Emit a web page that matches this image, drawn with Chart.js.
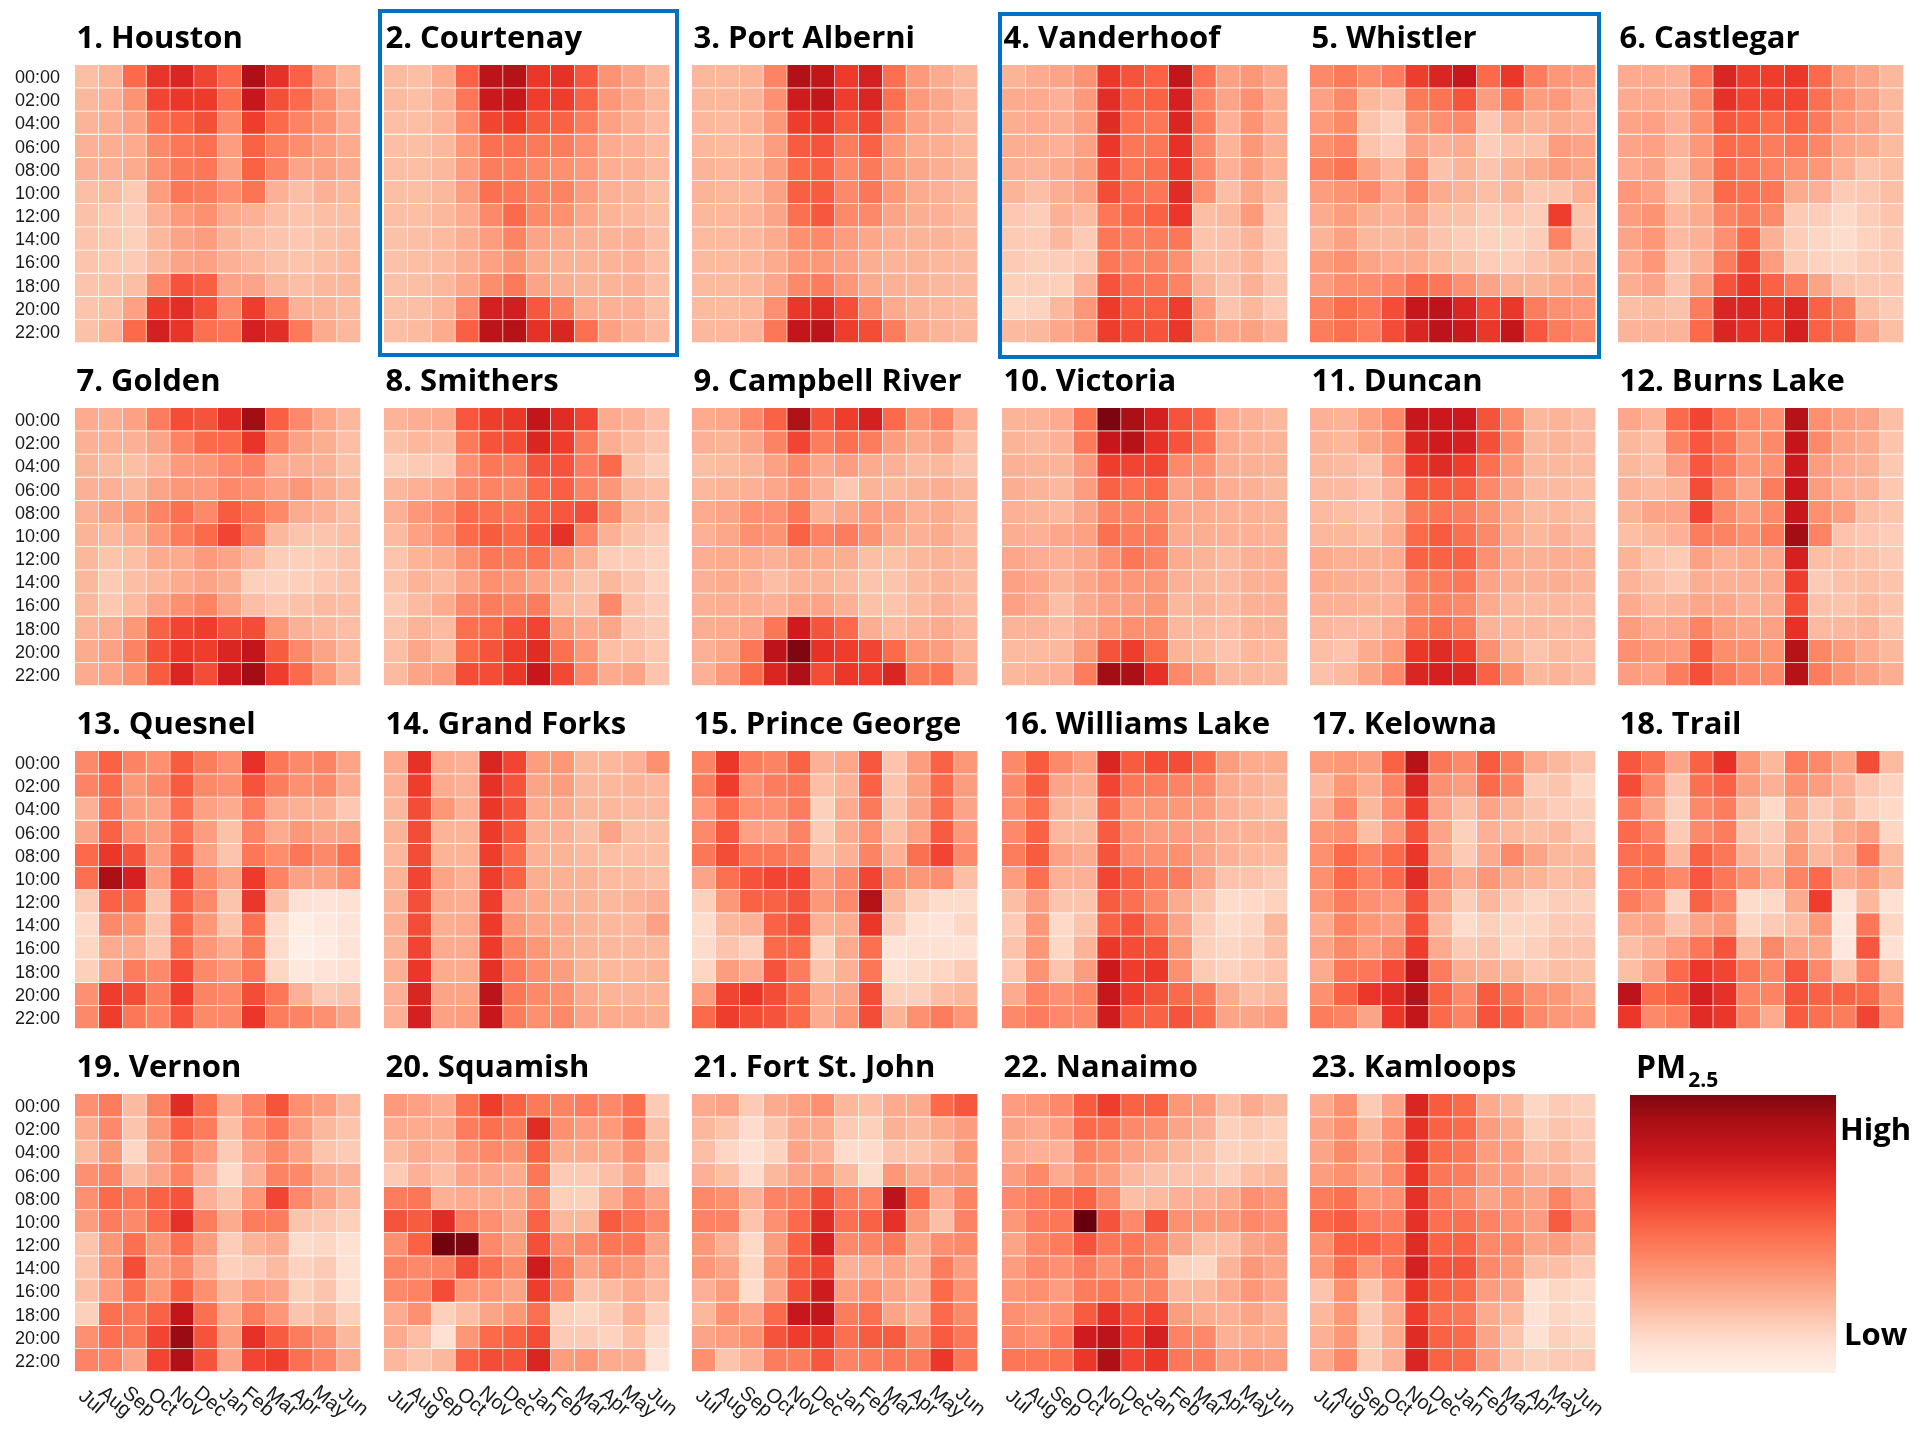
<!DOCTYPE html>
<html>
<head>
<meta charset="utf-8">
<title>Hourly PM2.5 by month, 23 BC communities</title>
<script src="https://cdn.jsdelivr.net/npm/chart.js@4.4.1/dist/chart.umd.min.js"></script>
<style>
  html, body { margin: 0; padding: 0; background: #ffffff; }
  #page { position: relative; width: 1920px; height: 1440px; overflow: hidden; background: #ffffff; }
  #page canvas { position: absolute; }
  .box { position: absolute; border: 4px solid #0070c0; box-sizing: border-box; pointer-events: none; }
</style>
</head>
<body>
<div id="page"></div>
<script>
// ---- axis categories ----
const months = ['Jul', 'Aug', 'Sep', 'Oct', 'Nov', 'Dec', 'Jan', 'Feb', 'Mar', 'Apr', 'May', 'Jun'];
const hours = ['00:00', '02:00', '04:00', '06:00', '08:00', '10:00', '12:00', '14:00', '16:00', '18:00', '20:00', '22:00'];

// ---- relative PM2.5 level (0 = low, 100 = high); rows = hour, columns = month ----
const houston = [
  [24, 27, 50, 65, 70, 60, 50, 85, 66, 52, 35, 26],
  [26, 28, 37, 60, 64, 63, 48, 77, 57, 50, 38, 28],
  [27, 29, 33, 48, 52, 57, 40, 62, 50, 42, 37, 29],
  [28, 29, 30, 40, 46, 48, 34, 52, 43, 39, 34, 30],
  [28, 28, 30, 38, 45, 46, 33, 52, 42, 32, 33, 30],
  [24, 25, 20, 34, 46, 44, 38, 47, 28, 24, 28, 26],
  [23, 21, 19, 28, 35, 38, 30, 28, 24, 22, 24, 24],
  [22, 21, 18, 26, 32, 34, 27, 24, 22, 21, 23, 24],
  [22, 21, 20, 26, 32, 33, 28, 26, 23, 22, 24, 25],
  [22, 23, 24, 40, 56, 53, 32, 32, 26, 24, 26, 26],
  [22, 24, 33, 63, 67, 57, 40, 62, 46, 28, 27, 25],
  [23, 27, 50, 72, 65, 48, 46, 72, 67, 45, 30, 26]
];
const courtenay = [
  [25, 24, 30, 52, 80, 82, 64, 66, 55, 37, 32, 26],
  [25, 24, 29, 46, 75, 77, 62, 62, 52, 36, 31, 26],
  [24, 24, 27, 40, 60, 63, 54, 52, 44, 33, 29, 25],
  [24, 24, 26, 36, 48, 48, 45, 44, 38, 30, 28, 25],
  [24, 24, 26, 34, 44, 43, 40, 38, 35, 29, 28, 25],
  [24, 24, 26, 34, 48, 46, 42, 42, 34, 28, 27, 24],
  [24, 24, 26, 30, 40, 50, 40, 38, 31, 27, 26, 24],
  [23, 24, 25, 29, 34, 42, 32, 30, 28, 27, 28, 24],
  [23, 24, 25, 29, 33, 37, 30, 28, 27, 27, 28, 24],
  [23, 24, 26, 31, 39, 45, 32, 29, 27, 27, 28, 24],
  [23, 24, 27, 40, 72, 73, 55, 43, 30, 28, 28, 24],
  [24, 25, 30, 53, 80, 82, 66, 70, 48, 33, 29, 25]
];
const portAlberni = [
  [26, 26, 27, 42, 84, 78, 63, 72, 48, 35, 30, 26],
  [26, 26, 27, 38, 74, 78, 62, 70, 48, 35, 31, 26],
  [26, 25, 27, 36, 62, 65, 54, 60, 42, 33, 30, 26],
  [26, 25, 26, 34, 54, 56, 44, 52, 36, 30, 29, 26],
  [27, 26, 27, 34, 50, 52, 40, 45, 35, 31, 29, 26],
  [27, 26, 26, 33, 53, 54, 40, 46, 36, 30, 28, 26],
  [26, 26, 27, 32, 48, 55, 40, 40, 32, 29, 28, 25],
  [25, 25, 26, 30, 38, 40, 34, 31, 28, 27, 27, 25],
  [25, 25, 26, 30, 35, 36, 33, 29, 27, 27, 26, 25],
  [25, 25, 26, 31, 40, 44, 36, 30, 28, 27, 26, 25],
  [25, 25, 26, 38, 64, 68, 57, 40, 30, 27, 26, 25],
  [26, 26, 27, 46, 78, 80, 62, 58, 44, 30, 27, 26]
];
const vanderhoof = [
  [27, 30, 32, 37, 64, 56, 52, 78, 48, 33, 36, 31],
  [30, 30, 28, 35, 67, 52, 52, 72, 42, 32, 38, 30],
  [29, 30, 29, 34, 68, 48, 46, 70, 44, 28, 37, 30],
  [29, 29, 28, 33, 64, 46, 46, 66, 40, 27, 36, 29],
  [28, 27, 30, 34, 60, 46, 48, 64, 40, 28, 34, 28],
  [27, 24, 29, 33, 58, 48, 46, 68, 38, 24, 31, 25],
  [21, 19, 28, 25, 46, 50, 52, 64, 24, 26, 35, 21],
  [20, 19, 26, 20, 46, 43, 44, 46, 22, 23, 27, 20],
  [20, 18, 19, 21, 46, 42, 42, 38, 24, 24, 27, 21],
  [18, 18, 18, 28, 56, 48, 46, 42, 27, 23, 28, 22],
  [16, 17, 26, 36, 63, 54, 53, 62, 34, 22, 26, 21],
  [25, 26, 31, 36, 62, 58, 56, 64, 36, 31, 33, 29]
];
const whistler = [
  [40, 45, 39, 44, 62, 70, 76, 50, 64, 44, 36, 34],
  [33, 40, 26, 24, 45, 47, 56, 34, 47, 34, 35, 28],
  [35, 40, 22, 18, 36, 38, 40, 21, 30, 27, 30, 28],
  [38, 42, 22, 19, 33, 28, 30, 19, 23, 23, 34, 32],
  [42, 47, 33, 26, 38, 23, 27, 22, 27, 30, 34, 31],
  [34, 37, 40, 31, 40, 30, 27, 24, 27, 21, 22, 28],
  [30, 34, 29, 28, 32, 24, 23, 19, 21, 19, 62, 22],
  [27, 33, 26, 26, 28, 22, 19, 17, 17, 19, 42, 22],
  [34, 38, 32, 30, 30, 26, 23, 19, 19, 22, 26, 27],
  [34, 39, 39, 42, 50, 46, 38, 32, 28, 27, 30, 32],
  [42, 49, 46, 58, 76, 80, 70, 58, 64, 44, 38, 36],
  [44, 48, 44, 58, 70, 80, 75, 64, 78, 55, 44, 40]
];
const castlegar = [
  [30, 30, 28, 44, 70, 62, 62, 64, 50, 36, 32, 26],
  [30, 30, 28, 40, 66, 60, 60, 60, 48, 38, 32, 26],
  [32, 33, 28, 38, 55, 53, 49, 52, 45, 35, 32, 26],
  [32, 33, 27, 36, 50, 48, 44, 46, 41, 32, 30, 25],
  [30, 32, 24, 34, 50, 46, 42, 38, 36, 28, 22, 24],
  [36, 33, 22, 30, 50, 48, 46, 30, 28, 20, 21, 24],
  [34, 37, 26, 30, 42, 45, 40, 20, 19, 15, 19, 22],
  [32, 36, 25, 28, 38, 50, 28, 19, 16, 14, 17, 20],
  [30, 36, 22, 28, 44, 58, 34, 20, 17, 16, 19, 20],
  [29, 32, 22, 34, 56, 64, 52, 44, 32, 22, 21, 21],
  [24, 25, 23, 44, 70, 70, 64, 70, 52, 45, 24, 20],
  [27, 27, 27, 50, 70, 66, 62, 72, 52, 48, 32, 24]
];
const golden = [
  [30, 29, 33, 44, 58, 56, 66, 88, 53, 40, 31, 26],
  [28, 28, 28, 32, 42, 50, 50, 65, 42, 33, 29, 24],
  [27, 25, 24, 27, 35, 36, 40, 43, 30, 29, 28, 23],
  [28, 28, 26, 32, 36, 35, 40, 38, 33, 36, 30, 26],
  [28, 32, 36, 42, 48, 40, 54, 48, 40, 30, 28, 24],
  [27, 26, 29, 36, 44, 50, 60, 46, 26, 22, 22, 24],
  [26, 22, 24, 30, 30, 35, 32, 26, 19, 18, 20, 22],
  [26, 20, 24, 26, 30, 32, 29, 18, 17, 18, 21, 22],
  [26, 21, 25, 32, 38, 42, 32, 24, 21, 23, 25, 24],
  [27, 29, 36, 52, 60, 62, 56, 58, 36, 28, 26, 24],
  [30, 33, 42, 57, 64, 62, 70, 78, 54, 40, 32, 26],
  [30, 32, 38, 54, 70, 58, 74, 88, 62, 50, 36, 26]
];
const smithers = [
  [27, 29, 30, 55, 62, 64, 78, 68, 60, 30, 28, 24],
  [23, 26, 25, 45, 56, 58, 70, 62, 45, 29, 25, 22],
  [18, 20, 21, 38, 46, 44, 56, 56, 44, 50, 23, 19],
  [26, 28, 31, 40, 42, 40, 50, 53, 42, 36, 26, 24],
  [28, 36, 40, 50, 48, 46, 52, 55, 58, 40, 27, 26],
  [25, 33, 38, 50, 54, 50, 56, 66, 42, 28, 23, 20],
  [22, 27, 30, 38, 46, 44, 47, 36, 28, 19, 19, 17],
  [22, 27, 25, 32, 38, 36, 32, 27, 22, 26, 22, 17],
  [20, 25, 30, 40, 44, 42, 44, 26, 24, 40, 22, 19],
  [22, 27, 25, 48, 50, 56, 60, 35, 30, 31, 22, 20],
  [24, 31, 26, 50, 56, 62, 68, 48, 36, 24, 24, 21],
  [25, 32, 34, 58, 58, 64, 76, 59, 40, 30, 32, 22]
];
const campbellRiver = [
  [30, 31, 40, 52, 84, 56, 62, 72, 50, 37, 42, 29],
  [28, 27, 32, 42, 60, 44, 48, 44, 34, 30, 33, 24],
  [24, 25, 27, 33, 40, 31, 34, 30, 28, 25, 26, 22],
  [26, 27, 28, 31, 36, 28, 21, 27, 26, 27, 29, 26],
  [30, 32, 38, 38, 46, 28, 31, 34, 33, 28, 30, 26],
  [28, 31, 38, 37, 52, 42, 44, 37, 30, 28, 30, 25],
  [29, 30, 30, 28, 31, 30, 29, 24, 23, 26, 27, 26],
  [28, 30, 28, 24, 27, 27, 25, 22, 22, 25, 27, 25],
  [28, 29, 29, 28, 31, 32, 28, 23, 22, 25, 28, 25],
  [29, 30, 32, 46, 74, 56, 50, 29, 25, 27, 30, 26],
  [28, 31, 46, 80, 95, 66, 62, 60, 50, 36, 34, 27],
  [28, 35, 50, 70, 85, 58, 64, 62, 70, 45, 47, 29]
];
const victoria = [
  [27, 27, 30, 47, 96, 86, 72, 56, 52, 30, 28, 26],
  [27, 26, 28, 45, 76, 82, 66, 56, 48, 30, 28, 27],
  [28, 27, 27, 36, 62, 60, 60, 40, 38, 29, 28, 27],
  [29, 27, 26, 34, 52, 48, 50, 32, 34, 29, 28, 26],
  [28, 27, 26, 32, 42, 42, 42, 31, 30, 28, 28, 27],
  [29, 28, 31, 33, 48, 44, 44, 30, 29, 28, 28, 27],
  [31, 29, 28, 31, 38, 46, 42, 30, 27, 25, 28, 28],
  [33, 31, 27, 31, 35, 36, 36, 28, 26, 25, 28, 28],
  [33, 30, 24, 30, 33, 34, 36, 26, 27, 25, 28, 28],
  [27, 27, 25, 30, 35, 38, 37, 26, 25, 24, 27, 27],
  [25, 25, 26, 36, 56, 62, 50, 27, 25, 22, 26, 25],
  [26, 27, 28, 44, 88, 86, 66, 40, 34, 26, 26, 25]
];
const duncan = [
  [28, 27, 33, 40, 76, 75, 75, 56, 40, 26, 27, 25],
  [27, 26, 31, 37, 70, 74, 72, 57, 40, 26, 27, 25],
  [26, 25, 22, 34, 63, 68, 62, 48, 36, 26, 26, 25],
  [25, 25, 22, 28, 54, 54, 53, 40, 32, 25, 25, 24],
  [25, 24, 22, 27, 45, 47, 44, 37, 30, 25, 26, 24],
  [26, 26, 24, 30, 50, 54, 48, 40, 30, 26, 28, 25],
  [30, 28, 28, 30, 52, 52, 52, 38, 30, 28, 29, 28],
  [30, 29, 28, 28, 42, 44, 46, 32, 29, 28, 29, 27],
  [28, 28, 27, 28, 40, 42, 40, 30, 26, 25, 26, 25],
  [26, 25, 25, 30, 44, 48, 44, 27, 26, 26, 25, 25],
  [24, 22, 30, 35, 64, 68, 62, 38, 27, 22, 25, 24],
  [23, 25, 32, 40, 70, 72, 70, 52, 38, 26, 27, 25]
];
const burnsLake = [
  [31, 27, 50, 60, 48, 40, 38, 82, 38, 34, 32, 24],
  [26, 24, 42, 55, 48, 36, 40, 78, 40, 32, 30, 22],
  [26, 24, 34, 55, 46, 36, 38, 75, 34, 30, 28, 21],
  [27, 25, 27, 58, 40, 31, 44, 76, 34, 28, 27, 21],
  [27, 32, 32, 60, 40, 34, 40, 76, 38, 34, 24, 22],
  [24, 26, 28, 44, 42, 38, 44, 88, 42, 22, 21, 19],
  [27, 22, 20, 33, 28, 30, 31, 72, 24, 24, 22, 20],
  [27, 24, 21, 29, 28, 28, 30, 62, 20, 23, 24, 22],
  [30, 26, 27, 31, 31, 28, 30, 58, 23, 22, 25, 22],
  [34, 30, 31, 42, 34, 32, 33, 66, 25, 26, 27, 22],
  [38, 36, 35, 54, 39, 38, 37, 82, 41, 36, 30, 26],
  [34, 33, 44, 57, 46, 40, 40, 82, 44, 37, 33, 29]
];
const quesnel = [
  [40, 52, 42, 38, 54, 44, 38, 66, 46, 40, 42, 32],
  [42, 50, 36, 40, 54, 40, 38, 56, 44, 38, 40, 30],
  [28, 46, 34, 32, 48, 33, 30, 44, 30, 28, 28, 21],
  [32, 52, 38, 34, 48, 34, 23, 42, 30, 36, 32, 32],
  [50, 64, 56, 34, 54, 33, 22, 46, 39, 46, 40, 48],
  [48, 86, 72, 34, 60, 40, 32, 63, 42, 33, 33, 38],
  [20, 52, 50, 22, 52, 40, 22, 64, 24, 12, 10, 12],
  [15, 40, 37, 22, 50, 36, 22, 48, 14, 5, 8, 10],
  [16, 30, 30, 22, 48, 36, 30, 45, 14, 4, 6, 10],
  [18, 32, 44, 40, 58, 40, 36, 46, 16, 8, 10, 12],
  [38, 62, 58, 44, 62, 42, 40, 58, 46, 28, 20, 22],
  [40, 62, 46, 42, 56, 40, 40, 64, 44, 42, 38, 32]
];
const grandForks = [
  [30, 66, 30, 28, 70, 60, 34, 36, 26, 26, 28, 38],
  [28, 62, 30, 28, 66, 56, 32, 34, 26, 26, 27, 26],
  [26, 58, 36, 28, 64, 56, 30, 30, 26, 26, 25, 25],
  [27, 58, 27, 27, 63, 54, 28, 28, 24, 32, 24, 24],
  [26, 58, 27, 27, 62, 50, 28, 27, 25, 24, 24, 24],
  [27, 60, 32, 28, 62, 52, 29, 28, 27, 25, 25, 24],
  [27, 57, 30, 29, 62, 33, 30, 28, 27, 26, 27, 29],
  [28, 58, 29, 30, 63, 36, 31, 30, 27, 26, 26, 33],
  [27, 60, 30, 30, 63, 42, 36, 30, 27, 26, 26, 26],
  [28, 64, 30, 30, 66, 46, 38, 34, 27, 26, 26, 27],
  [28, 70, 32, 32, 80, 46, 40, 38, 30, 27, 27, 27],
  [28, 72, 33, 34, 76, 44, 38, 40, 32, 30, 30, 29]
];
const princeGeorge = [
  [42, 64, 44, 42, 52, 28, 31, 55, 22, 34, 52, 36],
  [44, 62, 38, 44, 46, 24, 28, 52, 22, 33, 50, 34],
  [36, 50, 38, 38, 44, 18, 30, 45, 22, 32, 48, 32],
  [40, 55, 33, 33, 42, 20, 30, 38, 24, 33, 54, 36],
  [46, 58, 46, 46, 44, 24, 28, 42, 28, 48, 60, 40],
  [32, 48, 56, 60, 60, 34, 40, 60, 38, 36, 38, 24],
  [18, 36, 52, 52, 56, 36, 40, 82, 26, 18, 14, 14],
  [14, 26, 28, 52, 56, 28, 30, 64, 20, 12, 10, 16],
  [14, 22, 18, 50, 50, 18, 30, 48, 10, 12, 12, 12],
  [16, 34, 30, 56, 44, 22, 28, 46, 12, 14, 16, 20],
  [34, 60, 64, 58, 50, 30, 32, 58, 18, 18, 24, 26],
  [50, 62, 58, 56, 50, 30, 36, 58, 27, 38, 44, 36]
];
const williamsLake = [
  [40, 54, 40, 34, 70, 54, 58, 58, 50, 34, 30, 30],
  [40, 54, 32, 30, 60, 46, 44, 42, 40, 30, 28, 26],
  [38, 48, 27, 25, 52, 36, 36, 36, 34, 28, 26, 24],
  [40, 52, 26, 26, 54, 38, 34, 34, 32, 28, 28, 28],
  [44, 54, 33, 30, 56, 40, 38, 38, 32, 28, 26, 25],
  [34, 48, 28, 28, 60, 52, 46, 44, 32, 22, 22, 20],
  [24, 34, 22, 22, 54, 48, 40, 30, 22, 14, 15, 17],
  [20, 36, 15, 22, 52, 56, 46, 32, 19, 14, 16, 26],
  [22, 36, 16, 27, 64, 58, 56, 36, 18, 16, 18, 24],
  [21, 37, 22, 34, 75, 62, 64, 38, 20, 17, 20, 22],
  [30, 42, 38, 42, 76, 62, 56, 50, 46, 30, 24, 26],
  [40, 44, 40, 40, 74, 54, 52, 56, 50, 32, 32, 34]
];
const kelowna = [
  [34, 36, 34, 52, 82, 46, 40, 54, 44, 30, 26, 22],
  [26, 36, 30, 42, 70, 38, 34, 50, 42, 20, 22, 16],
  [28, 40, 26, 38, 62, 32, 24, 32, 27, 22, 19, 18],
  [36, 38, 24, 36, 56, 32, 18, 28, 26, 24, 26, 20],
  [38, 50, 42, 50, 64, 32, 20, 30, 40, 32, 26, 26],
  [38, 50, 42, 50, 68, 40, 30, 36, 30, 27, 24, 25],
  [36, 44, 38, 36, 56, 32, 19, 26, 20, 16, 19, 18],
  [30, 42, 36, 34, 56, 26, 14, 18, 16, 16, 20, 20],
  [32, 40, 34, 40, 62, 30, 20, 22, 16, 18, 22, 22],
  [30, 46, 46, 58, 80, 44, 30, 28, 26, 21, 24, 23],
  [38, 52, 64, 68, 82, 52, 40, 54, 46, 38, 36, 30],
  [44, 42, 32, 64, 78, 50, 42, 56, 52, 40, 36, 34]
];
const trail = [
  [55, 48, 32, 52, 66, 36, 26, 44, 40, 32, 58, 25],
  [58, 40, 22, 48, 52, 34, 28, 38, 34, 28, 21, 17],
  [44, 32, 18, 40, 44, 26, 15, 30, 20, 26, 17, 15],
  [50, 42, 20, 40, 44, 22, 20, 32, 22, 30, 34, 16],
  [48, 48, 26, 52, 46, 28, 23, 36, 26, 30, 46, 25],
  [46, 48, 40, 55, 46, 38, 30, 42, 50, 30, 34, 26],
  [44, 38, 17, 52, 42, 14, 15, 30, 62, 10, 26, 12],
  [30, 32, 22, 32, 36, 16, 20, 24, 35, 8, 46, 16],
  [24, 28, 34, 46, 56, 26, 40, 32, 31, 8, 55, 12],
  [24, 32, 50, 64, 60, 46, 40, 55, 40, 22, 42, 24],
  [80, 50, 54, 72, 66, 42, 42, 56, 52, 52, 50, 36],
  [64, 40, 44, 68, 64, 42, 30, 54, 48, 44, 60, 38]
];
const vernon = [
  [38, 44, 25, 42, 68, 48, 30, 42, 56, 38, 34, 26],
  [30, 40, 22, 36, 52, 44, 24, 38, 46, 34, 26, 22],
  [25, 36, 16, 32, 44, 35, 20, 32, 40, 33, 22, 20],
  [38, 42, 25, 32, 42, 28, 15, 28, 42, 40, 30, 28],
  [38, 50, 46, 52, 56, 28, 22, 36, 60, 40, 32, 26],
  [34, 44, 40, 50, 66, 44, 30, 44, 44, 22, 21, 18],
  [22, 36, 48, 36, 48, 34, 19, 27, 30, 14, 16, 12],
  [22, 36, 58, 34, 40, 28, 18, 20, 25, 17, 20, 12],
  [24, 34, 48, 36, 52, 38, 26, 34, 32, 18, 22, 13],
  [18, 48, 46, 52, 78, 48, 30, 44, 36, 22, 26, 18],
  [38, 48, 46, 60, 90, 56, 34, 66, 54, 44, 38, 26],
  [42, 42, 32, 60, 84, 56, 32, 60, 62, 48, 42, 30]
];
const squamish = [
  [35, 33, 30, 48, 62, 52, 45, 42, 44, 40, 48, 20],
  [30, 30, 30, 44, 48, 44, 68, 38, 34, 35, 46, 24],
  [25, 30, 27, 36, 40, 38, 52, 30, 30, 30, 38, 26],
  [20, 28, 24, 32, 32, 30, 46, 20, 20, 24, 32, 17],
  [44, 46, 28, 30, 30, 30, 40, 18, 18, 30, 40, 32],
  [56, 54, 68, 44, 38, 32, 52, 26, 26, 54, 48, 40],
  [38, 52, 98, 95, 40, 34, 57, 38, 40, 46, 46, 32],
  [42, 40, 42, 58, 48, 40, 74, 46, 32, 38, 36, 28],
  [40, 42, 58, 36, 36, 32, 62, 42, 22, 25, 30, 25],
  [30, 38, 18, 24, 32, 36, 48, 18, 16, 20, 28, 18],
  [30, 24, 12, 36, 50, 52, 58, 20, 20, 17, 24, 14],
  [26, 22, 26, 52, 58, 56, 70, 34, 36, 30, 30, 10]
];
const fortStJohn = [
  [30, 32, 20, 30, 33, 38, 26, 24, 30, 30, 50, 55],
  [26, 22, 14, 22, 30, 30, 20, 18, 28, 26, 30, 34],
  [24, 16, 12, 17, 32, 28, 14, 14, 22, 22, 26, 36],
  [28, 24, 14, 26, 32, 36, 26, 14, 36, 30, 34, 36],
  [40, 38, 28, 42, 44, 58, 44, 42, 80, 50, 30, 42],
  [42, 42, 22, 38, 50, 68, 48, 52, 66, 36, 24, 42],
  [36, 28, 15, 34, 52, 72, 40, 42, 46, 30, 38, 40],
  [36, 32, 16, 36, 52, 60, 28, 30, 32, 28, 44, 34],
  [28, 34, 14, 32, 57, 74, 34, 38, 32, 28, 50, 38],
  [26, 38, 32, 50, 76, 78, 44, 48, 32, 28, 50, 40],
  [32, 34, 38, 56, 62, 64, 48, 54, 54, 40, 54, 46],
  [38, 22, 28, 44, 44, 55, 42, 44, 46, 44, 64, 46]
];
const nanaimo = [
  [34, 36, 40, 54, 62, 52, 52, 36, 34, 24, 30, 26],
  [32, 30, 34, 50, 48, 40, 38, 32, 28, 18, 20, 18],
  [30, 28, 28, 42, 38, 33, 30, 26, 23, 17, 18, 18],
  [34, 40, 30, 38, 34, 26, 23, 22, 22, 18, 24, 26],
  [40, 44, 48, 52, 40, 24, 25, 28, 28, 30, 38, 36],
  [36, 44, 46, 100, 56, 40, 56, 38, 36, 36, 40, 38],
  [32, 40, 44, 56, 46, 46, 42, 32, 24, 24, 32, 34],
  [34, 40, 38, 44, 38, 44, 40, 18, 16, 27, 36, 32],
  [36, 38, 34, 44, 46, 40, 42, 26, 26, 30, 36, 32],
  [38, 36, 38, 54, 66, 56, 60, 34, 30, 28, 32, 28],
  [40, 38, 46, 74, 80, 62, 72, 42, 40, 28, 30, 30],
  [46, 46, 48, 64, 85, 60, 64, 46, 44, 34, 36, 34]
];
const kamloops = [
  [30, 38, 20, 32, 70, 54, 50, 30, 26, 16, 20, 18],
  [32, 38, 26, 38, 66, 52, 50, 34, 30, 18, 22, 20],
  [32, 40, 32, 40, 66, 50, 46, 34, 34, 24, 26, 22],
  [34, 38, 32, 40, 64, 46, 44, 34, 34, 28, 28, 24],
  [44, 48, 36, 38, 66, 46, 40, 32, 36, 32, 42, 32],
  [50, 54, 44, 44, 66, 48, 48, 42, 38, 34, 54, 38],
  [38, 52, 52, 48, 68, 52, 52, 40, 40, 32, 34, 28],
  [36, 48, 36, 46, 72, 56, 56, 40, 36, 24, 24, 20],
  [22, 38, 22, 34, 64, 52, 50, 34, 32, 12, 16, 14],
  [26, 36, 20, 30, 62, 48, 46, 30, 26, 12, 16, 14],
  [28, 36, 20, 30, 68, 52, 50, 32, 22, 12, 18, 16],
  [30, 40, 20, 28, 70, 52, 50, 34, 22, 18, 20, 20]
];

const siteNames = [
  '1. Houston', '2. Courtenay', '3. Port Alberni', '4. Vanderhoof', '5. Whistler', '6. Castlegar',
  '7. Golden', '8. Smithers', '9. Campbell River', '10. Victoria', '11. Duncan', '12. Burns Lake',
  '13. Quesnel', '14. Grand Forks', '15. Prince George', '16. Williams Lake', '17. Kelowna', '18. Trail',
  '19. Vernon', '20. Squamish', '21. Fort St. John', '22. Nanaimo', '23. Kamloops'
];
const siteValues = [
  houston, courtenay, portAlberni, vanderhoof, whistler, castlegar,
  golden, smithers, campbellRiver, victoria, duncan, burnsLake,
  quesnel, grandForks, princeGeorge, williamsLake, kelowna, trail,
  vernon, squamish, fortStJohn, nanaimo, kamloops
];
// value span shown by the colour bar
const colorbarRange = [3, 95];

// ---- sequential "Reds" colour ramp ----
const redsStops = ['#fff5f0', '#fee0d2', '#fcbba1', '#fc9272', '#fb6a4a', '#ef3b2c', '#cb181d', '#a50f15', '#67000d'];
function hexToRgb(h) {
  return [parseInt(h.slice(1, 3), 16), parseInt(h.slice(3, 5), 16), parseInt(h.slice(5, 7), 16)];
}
const redsRgb = redsStops.map(hexToRgb);
function reds(t) {
  t = Math.max(0, Math.min(1, t));
  const p = t * (redsRgb.length - 1);
  const i = Math.min(Math.floor(p), redsRgb.length - 2);
  const f = p - i;
  const a = redsRgb[i], b = redsRgb[i + 1];
  const c = a.map((v, k) => Math.round(v + (b[k] - v) * f));
  return `rgb(${c[0]},${c[1]},${c[2]})`;
}

// ---- layout of the 6 x 4 grid ----
const colLeft = [75, 384, 692, 1002, 1310, 1618];
const rowTop = [65, 408, 751, 1094];
const panelW = 286, panelH = 278;
const pad = { left: 75, top: 50, right: 14, bottom: 66 };

const TITLE_FONT = '700 31px "Open Sans", "DejaVu Sans", sans-serif';
const HOUR_FONT = '18px "Liberation Sans", Arial, sans-serif';
const MONTH_FONT = '20px "Liberation Sans", Arial, sans-serif';

// titles and hour / month labels, placed from the chart's own scales
const panelText = {
  id: 'panelText',
  afterDraw(chart, args, opts) {
    const { ctx, chartArea: a, scales: { x, y } } = chart;
    ctx.save();
    ctx.fillStyle = '#000000';
    ctx.font = TITLE_FONT;
    ctx.textAlign = 'left';
    ctx.textBaseline = 'alphabetic';
    ctx.fillText(opts.title, a.left + 1.5, a.top - 17);

    ctx.fillStyle = '#1a1a1a';
    if (opts.showHours) {
      ctx.font = HOUR_FONT;
      ctx.textAlign = 'right';
      ctx.textBaseline = 'middle';
      hours.forEach((h, i) => ctx.fillText(h, a.left - 15, y.getPixelForValue(i + 0.5) + 1.5));
    }
    if (opts.showMonths) {
      ctx.font = MONTH_FONT;
      months.forEach((m, i) => {
        ctx.save();
        ctx.translate(x.getPixelForValue(i) + 4, a.bottom + 30);
        ctx.rotate(40 * Math.PI / 180);
        ctx.textAlign = 'center';
        ctx.textBaseline = 'middle';
        ctx.fillText(m, 0, 0);
        ctx.restore();
      });
    }
    ctx.restore();
  }
};

const page = document.getElementById('page');

function makeCanvas(left, top, w, h) {
  const c = document.createElement('canvas');
  c.width = w; c.height = h;
  c.style.left = left + 'px';
  c.style.top = top + 'px';
  c.style.width = w + 'px';
  c.style.height = h + 'px';
  page.appendChild(c);
  return c;
}

siteValues.forEach((values, k) => {
  const col = k % 6, row = Math.floor(k / 6);
  const w = pad.left + panelW + pad.right;
  const h = pad.top + panelH + pad.bottom;
  const canvas = makeCanvas(colLeft[col] - pad.left, rowTop[row] - pad.top, w, h);
  new Chart(canvas, {
    type: 'bar',
    data: {
      labels: months,
      datasets: hours.map((hr, r) => ({
        label: hr,
        data: months.map((m, j) => ({ x: m, y: 1, v: values[r][j] })),
        backgroundColor: (c) => (c.raw ? reds(c.raw.v / 100) : 'rgba(0,0,0,0)'),
        borderColor: 'rgba(255,255,255,0.6)',
        borderWidth: { top: 0, left: 0, right: 1, bottom: 1 },
        borderSkipped: false,
        barPercentage: 1,
        categoryPercentage: 1
      }))
    },
    options: {
      responsive: false,
      animation: false,
      devicePixelRatio: 1,
      events: [],
      layout: { padding: pad },
      plugins: {
        legend: { display: false },
        tooltip: { enabled: false },
        panelText: { title: siteNames[k], showHours: col === 0, showMonths: row === 3 }
      },
      scales: {
        x: { display: false, stacked: true },
        y: { display: false, stacked: true, reverse: true, min: 0, max: hours.length }
      }
    },
    plugins: [panelText]
  });
});

// ---- colour bar ----
const colorbarText = {
  id: 'colorbarText',
  afterDraw(chart) {
    const { ctx, chartArea: a } = chart;
    ctx.save();
    ctx.fillStyle = '#000000';
    ctx.textBaseline = 'alphabetic';
    ctx.textAlign = 'left';
    ctx.font = '700 32px "Open Sans", "DejaVu Sans", sans-serif';
    ctx.fillText('PM', a.left + 6, a.top - 17);
    const pmW = ctx.measureText('PM').width;
    ctx.font = '700 21px "Open Sans", "DejaVu Sans", sans-serif';
    ctx.fillText('2.5', a.left + 8 + pmW, a.top - 8);
    ctx.font = TITLE_FONT;
    ctx.fillText('High', a.right + 4, a.top + 45);
    ctx.fillText('Low', a.right + 8, a.top + 250);
    ctx.restore();
  }
};
{
  const cbLeft = 1630, cbTop = 1095, cbW = 206, cbH = 278;
  const cpad = { left: 30, top: 55, right: 84, bottom: 17 };
  const canvas = makeCanvas(cbLeft - cpad.left, cbTop - cpad.top,
    cpad.left + cbW + cpad.right, cpad.top + cbH + cpad.bottom);
  new Chart(canvas, {
    type: 'bar',
    data: {
      labels: ['PM2.5'],
      datasets: [{
        data: [colorbarRange],
        backgroundColor: (c) => {
          const chart = c.chart;
          if (!chart.chartArea) return '#fb6a4a';
          const ys = chart.scales.y;
          const g = chart.ctx.createLinearGradient(0, ys.getPixelForValue(0), 0, ys.getPixelForValue(100));
          redsStops.forEach((s, i) => g.addColorStop(i / (redsStops.length - 1), s));
          return g;
        },
        borderWidth: 0,
        barPercentage: 1,
        categoryPercentage: 1
      }]
    },
    options: {
      responsive: false,
      animation: false,
      devicePixelRatio: 1,
      events: [],
      layout: { padding: cpad },
      plugins: { legend: { display: false }, tooltip: { enabled: false } },
      scales: {
        x: { display: false },
        y: { display: false, min: colorbarRange[0], max: colorbarRange[1] }
      }
    },
    plugins: [colorbarText]
  });
}

// ---- highlight frames around panels 2 and 4-5 ----
function addBox(left, top, right, bottom) {
  const d = document.createElement('div');
  d.className = 'box';
  d.style.left = left + 'px';
  d.style.top = top + 'px';
  d.style.width = (right - left) + 'px';
  d.style.height = (bottom - top) + 'px';
  page.appendChild(d);
}
addBox(378, 9, 679, 357);
addBox(998, 12, 1601, 359);
</script>
</body>
</html>
